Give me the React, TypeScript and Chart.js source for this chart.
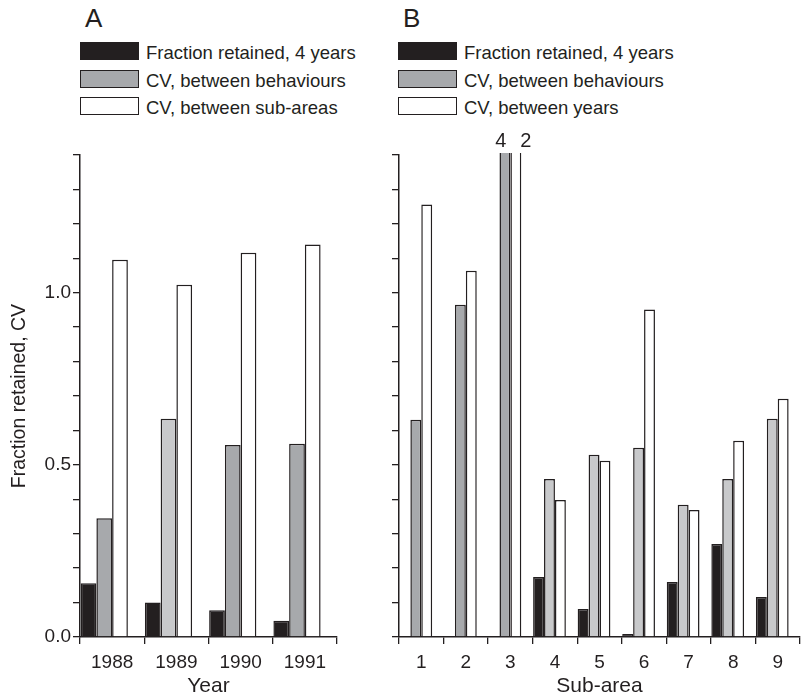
import React, { useEffect, useRef } from "react";
import { Chart, registerables } from "chart.js";

Chart.register(...registerables);

// ---------- data ----------
const yearsA = ["1988", "1989", "1990", "1991"];
const fractionA = [0.156, 0.1, 0.078, 0.047];
const cvBehavA = [0.345, 0.634, 0.558, 0.561];
const cvSubAreasA = [1.096, 1.023, 1.116, 1.14];
const behavShadeA = ["dark", "light", "dark", "dark"];

const subAreasB = ["1", "2", "3", "4", "5", "6", "7", "8", "9"];
const fractionB = [0, 0, 0, 0.174, 0.081, 0.009, 0.16, 0.27, 0.116];
const cvBehavB = [0.631, 0.965, 4, 0.459, 0.529, 0.55, 0.384, 0.459, 0.634];
const cvYearsB = [1.256, 1.064, 2, 0.398, 0.512, 0.951, 0.369, 0.57, 0.692];
const behavShadeB = ["dark", "dark", "dark", "light", "light", "light", "light", "light", "light"];

const legendA = ["Fraction retained, 4 years", "CV, between behaviours", "CV, between sub-areas"];
const legendB = ["Fraction retained, 4 years", "CV, between behaviours", "CV, between years"];

const yTickLabels = ["0.0", "0.5", "1.0"];
const yMin = 0;
const yMax = 1.4;
const yStep = 0.1;

// ---------- style ----------
const FONT = '"Liberation Sans", Arial, Helvetica, sans-serif';
const INK = "#231f20";
const DARK_GRAY = "#a7a9ac";
const LIGHT_GRAY = "#c8c9cb";
const shadeColor = (s: string) => (s === "light" ? LIGHT_GRAY : DARK_GRAY);

const overflowLabels = {
  id: "overflowLabels",
  afterDatasetsDraw(chart: any, _args: any, opts: any) {
    const { ctx, chartArea, scales } = chart;
    const y = scales.y;
    chart.data.datasets.forEach((ds: any, di: number) => {
      const meta = chart.getDatasetMeta(di);
      ds.data.forEach((v: any, i: number) => {
        if (v != null && v > y.max) {
          const el = meta.data[i];
          ctx.save();
          ctx.font = `20px ${FONT}`;
          ctx.fillStyle = INK;
          ctx.textAlign = "center";
          ctx.textBaseline = "alphabetic";
          const off = (opts && opts.offsets && opts.offsets[di]) || 0;
          ctx.fillText(String(v), el.x + off, chartArea.top - 8);
          ctx.restore();
        }
      });
    });
  },
};

function makeConfig(
  labels: string[],
  series: number[][],
  names: string[],
  shades: string[],
  opts: { yLabels: boolean; yWidth: number; xTitle: string; padRight: number }
): any {
  const datasets = [
    {
      label: names[0],
      data: series[0],
      backgroundColor: INK,
      borderColor: INK,
      borderWidth: 1.5,
    },
    {
      label: names[1],
      data: series[1],
      backgroundColor: shades.map(shadeColor),
      borderColor: INK,
      borderWidth: 1.5,
    },
    {
      label: names[2],
      data: series[2],
      backgroundColor: "#ffffff",
      borderColor: INK,
      borderWidth: 1.5,
    },
    {
      label: "",
      data: labels.map(() => null),
      backgroundColor: "rgba(0,0,0,0)",
      borderWidth: 0,
    },
  ].map((d) => ({ ...d, categoryPercentage: 0.98, barPercentage: 1, clip: 2 }));

  return {
    type: "bar",
    data: { labels, datasets },
    plugins: [overflowLabels],
    options: {
      animation: false,
      responsive: false,
      devicePixelRatio: 1,
      layout: { padding: { top: 35, right: opts.padRight, left: 0, bottom: 0 } },
      plugins: {
        legend: { display: false },
        tooltip: { enabled: false },
        overflowLabels: { offsets: [0, -4, 10, 0] },
      },
      scales: {
        x: {
          offset: true,
          grid: {
            display: true,
            offset: true,
            drawOnChartArea: false,
            drawTicks: true,
            tickLength: 7,
            color: INK,
            lineWidth: 1.3,
          },
          border: { display: true, color: INK, width: 1.5 },
          ticks: {
            color: INK,
            font: { family: FONT, size: 19 },
            padding: 7,
            maxRotation: 0,
            autoSkip: false,
          },
          title: {
            display: true,
            text: opts.xTitle,
            color: INK,
            font: { family: FONT, size: 21 },
            padding: { top: 0, bottom: 0 },
          },
          afterFit: (scale: any) => {
            scale.height = 62;
          },
        },
        y: {
          min: yMin,
          max: yMax,
          grid: {
            display: true,
            drawOnChartArea: false,
            drawTicks: true,
            tickLength: 7,
            color: INK,
            lineWidth: 1.3,
          },
          border: { display: true, color: INK, width: 1.5 },
          ticks: {
            stepSize: yStep,
            autoSkip: false,
            color: INK,
            font: { family: FONT, size: 19 },
            padding: 2,
            callback: (v: any) => {
              if (!opts.yLabels) return "";
              const lbl = yTickLabels.find((t) => Math.abs(parseFloat(t) - Number(v)) < 1e-6);
              return lbl ?? "";
            },
          },
          title: {
            display: opts.yLabels,
            text: "Fraction retained, CV",
            color: INK,
            font: { family: FONT, size: 19.5 },
            padding: { top: 8, bottom: 0 },
          },
          afterFit: (scale: any) => {
            scale.width = opts.yWidth;
          },
        },
      },
    },
  };
}

function BarPanel(props: {
  left: number;
  width: number;
  config: any;
}) {
  const ref = useRef<HTMLCanvasElement | null>(null);
  useEffect(() => {
    if (!ref.current) return;
    const chart = new Chart(ref.current, props.config);
    return () => chart.destroy();
  }, []);
  const top = 120;
  const height = 699 - top;
  return (
    <canvas
      ref={ref}
      width={props.width}
      height={height}
      style={{ position: "absolute", left: props.left, top, width: props.width, height }}
    />
  );
}

function Legend(props: { left: number; letter: string; names: string[]; shade: string }) {
  const boxStyles = [
    { background: INK, border: `1.5px solid ${INK}` },
    { background: shadeColor(props.shade), border: `1.5px solid ${INK}` },
    { background: "#ffffff", border: `1.5px solid ${INK}` },
  ];
  const rowTops = [42, 70, 97];
  return (
    <>
      <div
        style={{
          position: "absolute",
          left: props.left + 5,
          top: 5,
          font: `26px ${FONT}`,
          lineHeight: "26px",
          color: INK,
        }}
      >
        {props.letter}
      </div>
      {props.names.map((n, i) => (
        <React.Fragment key={i}>
          <div
            style={{
              position: "absolute",
              left: props.left,
              top: rowTops[i],
              width: 59,
              height: 18,
              boxSizing: "border-box",
              ...boxStyles[i],
            }}
          />
          <div
            style={{
              position: "absolute",
              left: props.left + 66,
              top: rowTops[i] + 2,
              font: `18.5px ${FONT}`,
              lineHeight: "18.5px",
              color: INK,
              whiteSpace: "nowrap",
            }}
          >
            {n}
          </div>
        </React.Fragment>
      ))}
    </>
  );
}

export default function App() {
  const configA = makeConfig(yearsA, [fractionA, cvBehavA, cvSubAreasA], legendA, behavShadeA, {
    yLabels: true,
    yWidth: 80,
    xTitle: "Year",
    padRight: 8,
  });
  const configB = makeConfig(subAreasB, [fractionB, cvBehavB, cvYearsB], legendB, behavShadeB, {
    yLabels: false,
    yWidth: 9,
    xTitle: "Sub-area",
    padRight: 4,
  });
  return (
    <div
      style={{
        position: "fixed",
        left: 0,
        top: 0,
        width: 804,
        height: 699,
        background: "#ffffff",
        overflow: "hidden",
      }}
    >
      <Legend left={80} letter="A" names={legendA} shade="dark" />
      <Legend left={398} letter="B" names={legendB} shade="dark" />
      <BarPanel left={0} width={345} config={configA} />
      <BarPanel left={390} width={414} config={configB} />
    </div>
  );
}
